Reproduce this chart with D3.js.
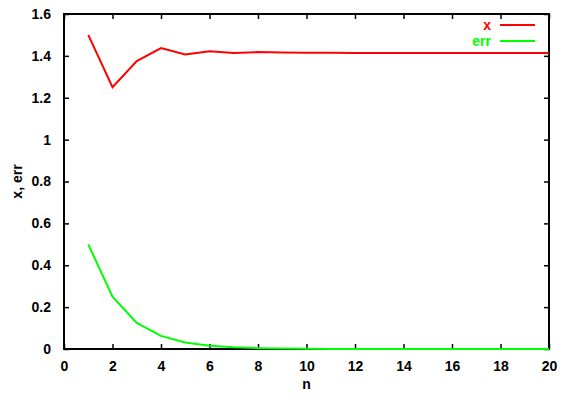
<!DOCTYPE html>
<html>
<head>
<meta charset="utf-8">
<script src="https://cdn.jsdelivr.net/npm/d3@7"></script>
<style>
  body { margin: 0; background: #fff; }
  text { font-family: "Liberation Sans", Arial, sans-serif; font-weight: bold; font-size: 14px; }
</style>
</head>
<body>
<div id="chart"></div>
<script>
// podatki (odčitani s slike)
const nValues = [1, 2, 3, 4, 5, 6, 7, 8, 9, 10, 11, 12, 13, 14, 15, 16, 17, 18, 19, 20];
const xValues = [1.5, 1.25, 1.375, 1.4375, 1.40625, 1.421875, 1.4140625, 1.4179688, 1.4160156, 1.4150391,
                 1.4145508, 1.4143066, 1.4141846, 1.4142456, 1.4142151, 1.4142303, 1.4142227, 1.4142265, 1.4142246, 1.4142256];
const errValues = [0.5, 0.25, 0.125, 0.0625, 0.03125, 0.015625, 0.0078125, 0.0039063, 0.0019531, 0.0009766,
                   0.0004883, 0.0002441, 0.0001221, 0.0000610, 0.0000305, 0.0000153, 0.0000076, 0.0000038, 0.0000019, 0.0000010];
const xTicks = [0, 2, 4, 6, 8, 10, 12, 14, 16, 18, 20];
const yTicks = [0, 0.2, 0.4, 0.6, 0.8, 1, 1.2, 1.4, 1.6];

const W = 574, H = 398;
const margin = { top: 14, right: 25, bottom: 49, left: 64 };
const width = W - margin.left - margin.right;
const height = H - margin.top - margin.bottom;

const svg = d3.select("#chart").append("svg")
    .attr("width", W)
    .attr("height", H);

const g = svg.append("g")
    .attr("transform", `translate(${margin.left},${margin.top})`);

const xScale = d3.scaleLinear().domain([0, 20]).range([0, width]);
const yScale = d3.scaleLinear().domain([0, 1.6]).range([height, 0]);

const tick = 5;

// osi - kljukice navznoter na vseh štirih straneh
const fmtY = d => d3.format("")(+d.toFixed(1));
g.append("g").attr("transform", `translate(0,${height})`)
    .call(d3.axisBottom(xScale).tickValues(xTicks).tickSize(-tick).tickPadding(12));
g.append("g")
    .call(d3.axisTop(xScale).tickValues(xTicks).tickSize(-tick).tickFormat(""));
g.append("g")
    .call(d3.axisLeft(yScale).tickValues(yTicks).tickSize(-tick).tickPadding(13).tickFormat(fmtY));
g.append("g").attr("transform", `translate(${width},0)`)
    .call(d3.axisRight(yScale).tickValues(yTicks).tickSize(-tick).tickFormat(""));

g.selectAll(".domain").remove();
g.selectAll(".tick line").attr("stroke", "#000").attr("stroke-width", 1.5);
g.selectAll(".tick text").attr("fill", "#000")
    .style("font-size", "14px").style("font-family", "'Liberation Sans', Arial, sans-serif").style("font-weight", "bold");

// okvir
g.append("rect")
    .attr("x", 0).attr("y", 0)
    .attr("width", width).attr("height", height)
    .attr("fill", "none").attr("stroke", "#000").attr("stroke-width", 2);

// črte
const line = d3.line()
    .x((d, i) => xScale(nValues[i]))
    .y(d => yScale(d));

g.append("path").datum(xValues)
    .attr("d", line).attr("fill", "none")
    .attr("stroke", "#ff0000").attr("stroke-width", 2);

g.append("path").datum(errValues)
    .attr("d", line).attr("fill", "none")
    .attr("stroke", "#00ff00").attr("stroke-width", 2);

// legenda
const legend = [["x", "#ff0000"], ["err", "#00ff00"]];
legend.forEach((d, i) => {
    const y = 25 + i * 16;
    svg.append("text")
        .attr("x", 491).attr("y", y)
        .attr("dy", "0.35em")
        .attr("text-anchor", "end")
        .attr("fill", d[1])
        .text(d[0]);
    svg.append("line")
        .attr("x1", 500).attr("x2", 535)
        .attr("y1", y).attr("y2", y)
        .attr("stroke", d[1]).attr("stroke-width", 2);
});

// naslovi osi
svg.append("text")
    .attr("x", margin.left + width / 2).attr("y", 389)
    .attr("text-anchor", "middle")
    .text("n");

svg.append("text")
    .attr("transform", `translate(22,${margin.top + height / 2}) rotate(-90)`)
    .attr("text-anchor", "middle")
    .text("x, err");
</script>
</body>
</html>
